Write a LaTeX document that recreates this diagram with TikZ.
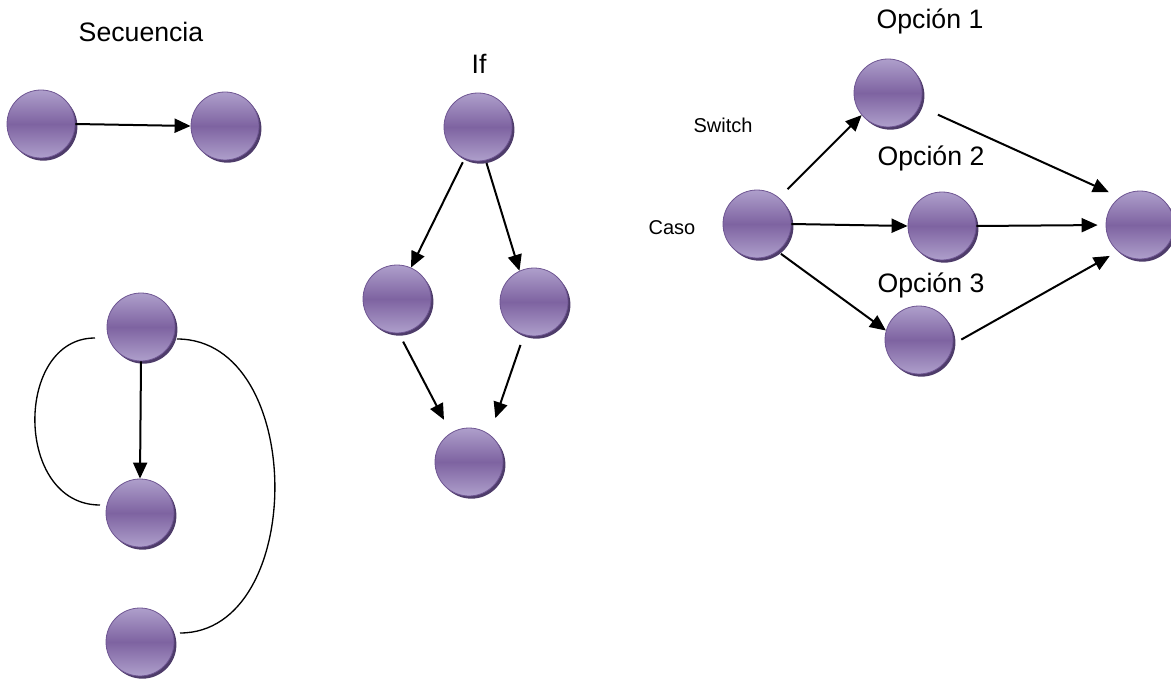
\documentclass[tikz,border=0pt]{standalone}
\usepackage{fontspec}
\setmainfont{Liberation Sans}
\usetikzlibrary{arrows.meta}
\usetikzlibrary{shadows}

\definecolor{purpLight}{HTML}{AE9FCB}
\definecolor{purpMid}{HTML}{7E63A1}
\definecolor{purpEdge}{HTML}{6E5592}
\definecolor{purpShadow}{HTML}{4E3C6A}

\tikzset{
	ball/.style={circle, inner sep=0pt, minimum size=51pt, draw=purpEdge, line width=0.6pt,
		top color=purpLight, bottom color=purpLight, middle color=purpMid,
		general shadow={fill=purpShadow, shadow xshift=1.8pt, shadow yshift=-2pt}},
	flow/.style={line width=1.5pt, -{Triangle[length=12pt,width=10.5pt]}},
	loopline/.style={line width=1pt},
	title/.style={font=\fontsize{20}{24}\selectfont},
	smalltitle/.style={font=\fontsize{15}{18}\selectfont}
}

\begin{document}
\begin{tikzpicture}[x=0.75pt, y=-0.75pt]

	\useasboundingbox (0,0) rectangle (1171,681);

% Define nodes.

	%sequence
	\node[title] (seqLabel) at (141,32) {Secuencia};
	\node[ball] (a1) at (41,124) {};
	\node[ball] (a2) at (225,126) {};

	%loop
	\node[ball] (l1) at (141,327) {};
	\node[ball] (l2) at (140,513) {};
	\node[ball] (l3) at (140,642) {};
	\coordinate (loopLeftTop) at (95,338);
	\coordinate (loopLeftBot) at (100,505);
	\coordinate (loopRightTop) at (177,339);
	\coordinate (loopRightBot) at (180,633);

	%if
	\node[title] (ifLabel) at (479,64) {If};
	\node[ball] (i1) at (478,127) {};
	\node[ball] (i2) at (397,299) {};
	\node[ball] (i3) at (534,302) {};
	\node[ball] (i4) at (469,462) {};

	%switch
	\node[smalltitle] (swLabel) at (723,125) {Switch};
	\node[smalltitle] (caseLabel) at (672,228) {Caso};
	\node[ball] (s0) at (757,224) {};
	\node[ball] (o1) at (888,93) {};
	\node[ball] (o2) at (942,226) {};
	\node[ball] (o3) at (919,340) {};
	\node[ball] (sEnd) at (1140,225) {};
	\node[title] (opt1) at (930,21) {Opción 1};
	\node[title] (opt2) at (931,158) {Opción 2};
	\node[title] (opt3) at (931,285) {Opción 3};

% Draw lines.

	\draw[flow] (a1.east) -- (a2.west);

	\draw[flow] (l1.south) -- (l2.north);
	\draw[loopline] (loopLeftTop) .. controls (14,338) and (14,505) .. (loopLeftBot);
	\draw[loopline] (loopRightTop) .. controls (307,339) and (307,633) .. (loopRightBot);

	\draw[flow, shorten <=3pt] (i1.247) -- (i2.66);
	\draw[flow, shorten <=2pt] (i1.283) -- (i3.115);
	\draw[flow, shorten <=7pt, shorten >=11pt] (i2.273) -- (i4.122);
	\draw[flow, shorten <=8pt, shorten >=13pt] (i3.253) -- (i4.53);

	\draw[flow, shorten <=9pt] (s0.50) -- (o1.220);
	\draw[flow] (s0.east) -- (o2.west);
	\draw[flow, shorten <=3pt] (s0.307) -- (o3.164);
	\draw[flow, shorten <=15pt, shorten >=9pt] (o1.337) -- (sEnd.126);
	\draw[flow, shorten >=6pt] (o2.east) -- (sEnd.west);
	\draw[flow, shorten <=7pt, shorten >=7pt] (o3.353) -- (sEnd.230);

\end{tikzpicture}
\end{document}
